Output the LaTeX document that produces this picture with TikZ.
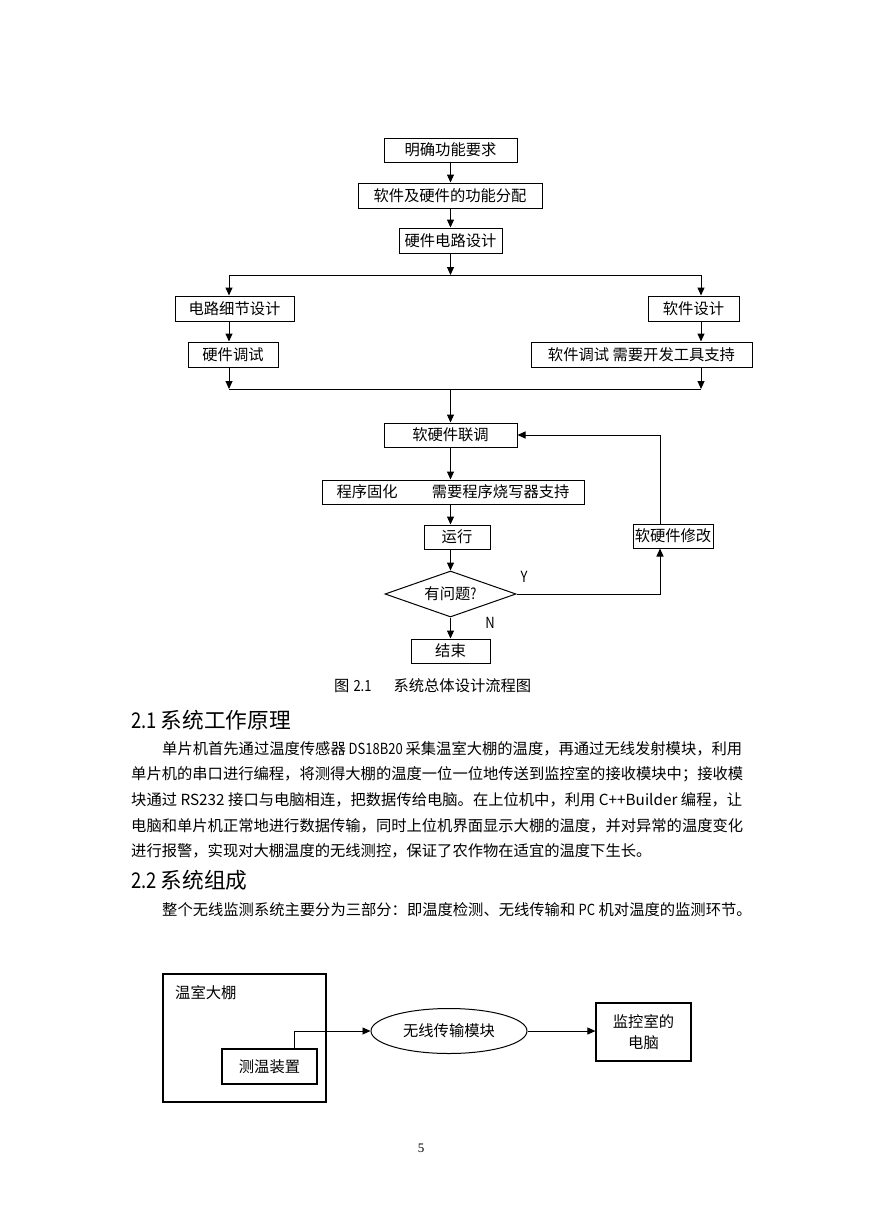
\documentclass[tikz,border=0pt]{standalone}
\usepackage{graphicx}
\usepackage{fontspec}
\setmainfont{Liberation Serif}
\newfontfamily\cjk{Noto Sans CJK SC}
\usetikzlibrary{arrows.meta,shapes.geometric}
\XeTeXlinebreaklocale "zh"
\XeTeXlinebreakskip=0pt plus 3pt minus 0.6pt
\newcommand\fc{\cjk\fontsize{15.3}{21}\selectfont}
\newcommand\hfnt{\cjk\fontsize{21.7}{26}\selectfont}
\newcommand\latn[1]{\scalebox{0.85}[1]{#1}}
\begin{document}
\begin{tikzpicture}[x=1pt,y=-1pt,
  box/.style={draw, line width=1pt, inner sep=0pt, minimum height=24pt, font=\fc},
  ln/.style={line width=1pt},
  arr/.style={line width=1pt, -{Triangle[length=8pt,width=7pt]}},
  arrb/.style={line width=0.8pt, -{Triangle[length=8pt,width=7pt]}},
  bbox/.style={draw, line width=1.2pt, inner sep=0pt, font=\fc},
  txt/.style={anchor=west, inner sep=0pt, font=\fc},
  lbl/.style={inner sep=0pt, font=\fc}]
\useasboundingbox[fill=white] (0,0) rectangle (869,1228);

% ---- flowchart ----
\coordinate (cx) at (450.5,0);
\coordinate (fx) at (660,0);
\node[box, minimum width=133pt] (n1) at (450.5,150) {明确功能要求};
\node[box, minimum width=184pt, minimum height=25pt] (n2) at (450,195.5) {软件及硬件的功能分配};
\node[box, minimum width=103pt, minimum height=25pt] (n3) at (450.5,240.5) {硬件电路设计};
\node[box, minimum width=119pt, minimum height=25pt] (n4) at (234.5,308.5) {电路细节设计};
\node[box, minimum width=90pt, minimum height=25pt] (n5) at (233,354.5) {硬件调试};
\node[box, minimum width=91pt, minimum height=25pt] (n6) at (693.5,308.5) {软件设计};
\node[box, minimum width=221pt, minimum height=25pt] (n7) at (641.5,354.5) {软件调试 需要开发工具支持};
\node[box, minimum width=133pt] (n8) at (450.5,435) {软硬件联调};
\node[box, minimum width=262pt] (n9) at (453,492) {程序固化\hspace{34pt}需要程序烧写器支持};
\node[box, minimum width=66pt] (n10) at (457,537) {运行};
\node[draw, line width=1pt, diamond, aspect=2.85, inner sep=0pt, minimum width=131pt, minimum height=46pt, font=\fc] (n11) at (450.5,594) {有问题\latn{?}};
\node[box, minimum width=79pt] (n12) at (450.5,651) {结束};
\node[box, minimum width=80pt] (n13) at (673,536) {软硬件修改};
\node[lbl] (ly) at (524,577) {\latn{Y}};
\node[lbl] (lnn) at (490,623) {\latn{N}};

\coordinate (top) at (450.5,275);
\coordinate (tl) at (229,275);
\coordinate (tr) at (701,275);
\coordinate (bl) at (229,389);
\coordinate (br) at (701,389);
\draw[arr] (n1.south -| cx) -- (n2.north -| cx);
\draw[arr] (n2.south -| cx) -- (n3.north -| cx);
\draw[arr] (n3.south -| cx) -- (top);
\draw[ln] (tl) -- (tr);
\draw[arr] (tl) -- (tl |- n4.north);
\draw[arr] (tr) -- (tr |- n6.north);
\draw[arr] (tl |- n4.south) -- (tl |- n5.north);
\draw[arr] (tr |- n6.south) -- (tr |- n7.north);
\draw[arr] (tl |- n5.south) -- (bl);
\draw[arr] (tr |- n7.south) -- (br);
\draw[ln] (bl) -- (br);
\draw[arr] (cx |- bl) -- (cx |- n8.north);
\draw[arr] (cx |- n8.south) -- (cx |- n9.north);
\draw[arr] (cx |- n9.south) -- (cx |- n10.north);
\draw[arr] (cx |- n10.south) -- (n11.north);
\draw[arr] (n11.south) -- (n12.north);
\draw[arr] (n11.east) -- (n11.east -| fx) -- (fx |- n13.south);
\draw[arr] (fx |- n13.north) -- (fx |- n8.east) -- (n8.east);

\node[txt] (cap) at (334,686) {图\hspace{4pt}\latn{2.1}\hspace{22pt}系统总体设计流程图};

% ---- text ----
\node[anchor=west, inner sep=0pt, font=\hfnt] (h1) at (131,720) {\latn{2.1}\hspace{4pt}系统工作原理};
\node[txt] (p1) at (162,749) {\hbox to 580pt{单片机首先通过温度传感器 \latn{DS18B20} 采集温室大棚的温度，再通过无线发射模块，利用}};
\node[txt] (p2) at (131,774.5) {\hbox to 611pt{单片机的串口进行编程，将测得大棚的温度一位一位地传送到监控室的接收模块中；接收模}};
\node[txt] (p3) at (131,800) {\hbox to 611pt{块通过 RS232 接口与电脑相连，把数据传给电脑。在上位机中，利用 C++Builder 编程，让}};
\node[txt] (p4) at (131,825.5) {\hbox to 611pt{电脑和单片机正常地进行数据传输，同时上位机界面显示大棚的温度，并对异常的温度变化}};
\node[txt] (p5) at (131,851) {进行报警，实现对大棚温度的无线测控，保证了农作物在适宜的温度下生长。};
\node[anchor=west, inner sep=0pt, font=\hfnt] (h2) at (131,880) {\latn{2.2}\hspace{4pt}系统组成};
\node[txt] (p6) at (162,910) {整个无线监测系统主要分为三部分：即温度检测、无线传输和 \latn{PC} 机对温度的监测环节。};

% ---- system diagram ----
\node[bbox, minimum width=163pt, minimum height=128pt] (gh) at (244.5,1038) {};
\node[txt] (ghl) at (175,993) {温室大棚};
\node[bbox, minimum width=95pt, minimum height=35pt] (cw) at (269.5,1066.5) {测温装置\hspace{12pt}};
\node[draw, line width=1pt, ellipse, inner sep=0pt, minimum width=156pt, minimum height=45pt, font=\fc] (el) at (449,1031) {无线传输模块};
\node[bbox, minimum width=95pt, minimum height=58pt, align=center] (pc) at (643.5,1032) {监控室的\\电脑};
\coordinate (cwx) at (294,1031);
\draw[arrb] (cwx |- cw.north) -- (cwx) -- (el.west);
\draw[arrb] (el.east) -- (el.east -| pc.west);

\node[inner sep=0pt, font=\fontsize{13}{15}\selectfont] (pg) at (421,1148) {5};
\end{tikzpicture}
\end{document}
